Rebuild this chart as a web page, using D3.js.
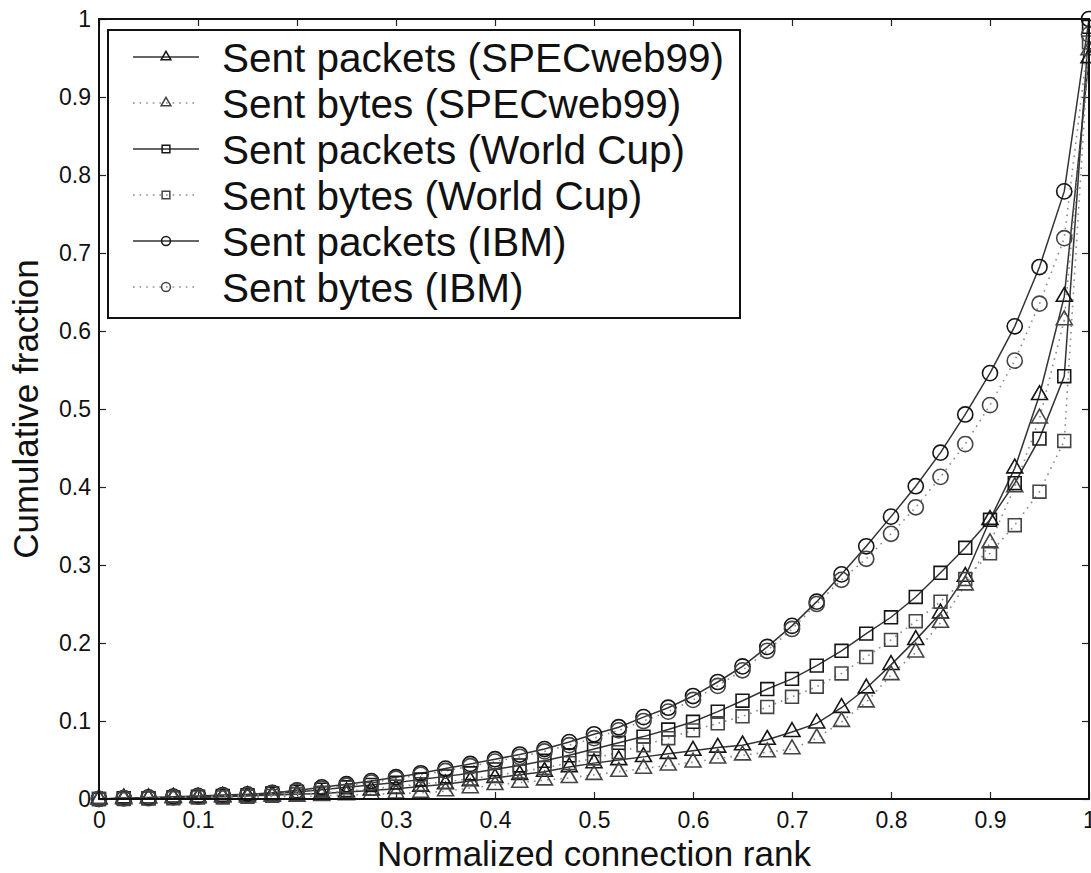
<!DOCTYPE html>
<html lang="en">
<head>
<meta charset="UTF-8">
<title>Cumulative fraction vs normalized connection rank</title>
<style>
    body { margin: 0; background: #fff; }
    svg { display: block; }
    text { font-family: "Liberation Sans", Arial, Helvetica, sans-serif; fill: #111; }
</style>
</head>
<body>
<div id="chart"></div>
<script src="https://d3js.org/d3.v7.min.js"></script>
<script>
    // normalized connection rank (x positions of the markers)
    const rank = [0, 0.025, 0.05, 0.075, 0.1, 0.125, 0.15, 0.175, 0.2, 0.225,
        0.25, 0.275, 0.3, 0.325, 0.35, 0.375, 0.4, 0.425, 0.45, 0.475,
        0.5, 0.525, 0.55, 0.575, 0.6, 0.625, 0.65, 0.675, 0.7, 0.725,
        0.75, 0.775, 0.8, 0.825, 0.85, 0.875, 0.9, 0.925, 0.95, 0.975, 1];

    const specPackets = [0, 0.001, 0.001, 0.002, 0.002, 0.003, 0.004, 0.005, 0.006, 0.007,
        0.009, 0.011, 0.013, 0.016, 0.019, 0.023, 0.027, 0.031, 0.035, 0.041,
        0.046, 0.050, 0.054, 0.058, 0.062, 0.066, 0.069, 0.076, 0.086, 0.097,
        0.117, 0.142, 0.172, 0.204, 0.238, 0.285, 0.358, 0.424, 0.518, 0.644, 0.95];
    const specBytes = [0, 0, 0.001, 0.001, 0.001, 0.002, 0.002, 0.003, 0.003, 0.004,
        0.005, 0.006, 0.007, 0.008, 0.010, 0.014, 0.018, 0.021, 0.024, 0.027,
        0.031, 0.035, 0.039, 0.043, 0.047, 0.052, 0.056, 0.060, 0.064, 0.078,
        0.099, 0.124, 0.159, 0.188, 0.226, 0.274, 0.328, 0.400, 0.488, 0.614, 0.96];
    const wcPackets = [0, 0.001, 0.001, 0.002, 0.003, 0.004, 0.005, 0.007, 0.009, 0.012,
        0.015, 0.018, 0.021, 0.025, 0.029, 0.033, 0.038, 0.043, 0.049, 0.056,
        0.064, 0.072, 0.080, 0.089, 0.099, 0.112, 0.126, 0.141, 0.154, 0.171,
        0.190, 0.212, 0.233, 0.259, 0.290, 0.322, 0.358, 0.405, 0.462, 0.542, 0.99];
    const wcBytes = [0, 0, 0.001, 0.001, 0.002, 0.002, 0.003, 0.004, 0.006, 0.008,
        0.010, 0.013, 0.016, 0.019, 0.022, 0.026, 0.030, 0.035, 0.040, 0.046,
        0.052, 0.060, 0.069, 0.078, 0.088, 0.097, 0.106, 0.118, 0.131, 0.144,
        0.161, 0.182, 0.204, 0.228, 0.253, 0.282, 0.315, 0.351, 0.394, 0.459, 0.97];
    const ibmPackets = [0, 0.001, 0.002, 0.003, 0.004, 0.005, 0.006, 0.008, 0.011, 0.015,
        0.019, 0.023, 0.028, 0.033, 0.039, 0.045, 0.051, 0.057, 0.064, 0.073,
        0.083, 0.092, 0.105, 0.117, 0.132, 0.150, 0.170, 0.195, 0.222, 0.253,
        0.288, 0.324, 0.362, 0.401, 0.444, 0.493, 0.546, 0.606, 0.682, 0.779, 1.0];
    const ibmBytes = [0, 0.001, 0.001, 0.002, 0.003, 0.004, 0.005, 0.007, 0.010, 0.013,
        0.017, 0.021, 0.026, 0.031, 0.036, 0.042, 0.048, 0.054, 0.061, 0.069,
        0.078, 0.088, 0.100, 0.112, 0.127, 0.145, 0.165, 0.190, 0.218, 0.250,
        0.281, 0.308, 0.340, 0.374, 0.413, 0.455, 0.505, 0.562, 0.635, 0.719, 0.98];

    const seriesNames = ['Sent packets (SPECweb99)', 'Sent bytes (SPECweb99)',
        'Sent packets (World Cup)', 'Sent bytes (World Cup)',
        'Sent packets (IBM)', 'Sent bytes (IBM)'];
    const seriesValues = [specPackets, specBytes, wcPackets, wcBytes, ibmPackets, ibmBytes];

    const xTicks = [0, 0.1, 0.2, 0.3, 0.4, 0.5, 0.6, 0.7, 0.8, 0.9, 1];
    const yTicks = [0, 0.1, 0.2, 0.3, 0.4, 0.5, 0.6, 0.7, 0.8, 0.9, 1];
    const xLabel = 'Normalized connection rank';
    const yLabel = 'Cumulative fraction';

    const width = 1091;
    const height = 873;
    const plot = { left: 99, right: 1089, top: 19, bottom: 799 };

    const svg = d3.select('#chart')
        .append('svg')
        .attr('width', width)
        .attr('height', height);

    const x = d3.scaleLinear().domain([0, 1]).range([plot.left, plot.right]);
    const y = d3.scaleLinear().domain([0, 1]).range([plot.bottom, plot.top]);

    // marker shape + line style per series
    const shapes = [d3.symbolTriangle, d3.symbolTriangle, d3.symbolSquare, d3.symbolSquare, d3.symbolCircle, d3.symbolCircle];
    const bigSize = [110, 110, 165, 165, 180, 180];
    const smallSize = [42, 42, 60, 60, 62, 62];
    const dotted = [false, true, false, true, false, true];

    const series = seriesNames.map((name, k) => ({
        name,
        shape: shapes[k],
        dotted: dotted[k],
        big: bigSize[k],
        small: smallSize[k],
        points: rank.map((r, i) => ({ x: r, y: seriesValues[k][i] }))
    }));

    const lineStroke = d => d.dotted ? '#8a8a8a' : '#333';
    const lineDash = d => d.dotted ? '1.6,5' : null;
    const markStroke = d => d.dotted ? '#444' : '#151515';

    // axes: ticks point inward on all four sides
    svg.append('g')
        .attr('transform', `translate(0,${plot.bottom})`)
        .call(d3.axisBottom(x).tickValues(xTicks).tickFormat(d => d).tickSize(-7).tickPadding(13));
    svg.append('g')
        .attr('transform', `translate(0,${plot.top})`)
        .call(d3.axisTop(x).tickValues(xTicks).tickFormat('').tickSize(-7));
    svg.append('g')
        .attr('transform', `translate(${plot.left},0)`)
        .call(d3.axisLeft(y).tickValues(yTicks).tickFormat(d => d).tickSize(-7).tickPadding(8));
    svg.append('g')
        .attr('transform', `translate(${plot.right},0)`)
        .call(d3.axisRight(y).tickValues(yTicks).tickFormat('').tickSize(-7));

    svg.selectAll('.domain').remove();
    svg.selectAll('.tick line').attr('stroke', '#222').attr('stroke-width', 1.2);
    svg.selectAll('.tick text').attr('font-size', 23).attr('fill', '#111')
        .style('font-family', '"Liberation Sans", Arial, sans-serif');

    // series lines
    const line = d3.line().x(d => x(d.x)).y(d => y(d.y));
    const gs = svg.append('g');
    gs.selectAll('path.line')
        .data(series)
        .enter().append('path')
        .attr('class', 'line')
        .attr('d', d => line(d.points))
        .attr('fill', 'none')
        .attr('stroke', lineStroke)
        .attr('stroke-width', d => d.dotted ? 1.6 : 1.5)
        .attr('stroke-dasharray', lineDash);

    // markers
    series.forEach(s => {
        gs.append('g').selectAll('path')
            .data(s.points)
            .enter().append('path')
            .attr('d', d3.symbol().type(s.shape).size(s.big)())
            .attr('transform', d => `translate(${x(d.x)},${y(d.y)})`)
            .attr('fill', 'none')
            .attr('stroke', markStroke(s))
            .attr('stroke-width', 1.6);
    });

    // frame
    svg.append('rect')
        .attr('x', plot.left)
        .attr('y', plot.top)
        .attr('width', plot.right - plot.left)
        .attr('height', plot.bottom - plot.top)
        .attr('fill', 'none')
        .attr('stroke', '#111')
        .attr('stroke-width', 2);

    // legend
    const legend = svg.append('g');
    legend.append('rect')
        .attr('x', 108)
        .attr('y', 30)
        .attr('width', 632)
        .attr('height', 288)
        .attr('fill', '#fff')
        .attr('stroke', '#111')
        .attr('stroke-width', 2);

    const items = legend.selectAll('g.item')
        .data(series)
        .enter().append('g')
        .attr('class', 'item')
        .attr('transform', (d, i) => `translate(0,${57 + i * 46})`);
    items.append('line')
        .attr('x1', 133).attr('x2', 199)
        .attr('y1', 0).attr('y2', 0)
        .attr('stroke', lineStroke)
        .attr('stroke-width', d => d.dotted ? 1.6 : 1.5)
        .attr('stroke-dasharray', lineDash);
    items.append('path')
        .attr('d', d => d3.symbol().type(d.shape).size(d.small)())
        .attr('transform', 'translate(166,0)')
        .attr('fill', 'none')
        .attr('stroke', markStroke)
        .attr('stroke-width', 1.5);
    items.append('text')
        .attr('x', 222)
        .attr('y', 0)
        .attr('dy', '0.36em')
        .attr('font-size', 40.5)
        .text(d => d.name);

    // axis titles
    svg.append('text')
        .attr('x', x(0.5))
        .attr('y', 866)
        .attr('text-anchor', 'middle')
        .attr('font-size', 35)
        .text(xLabel);
    svg.append('text')
        .attr('transform', `translate(38,${y(0.5)}) rotate(-90)`)
        .attr('text-anchor', 'middle')
        .attr('font-size', 35)
        .text(yLabel);
</script>
</body>
</html>
